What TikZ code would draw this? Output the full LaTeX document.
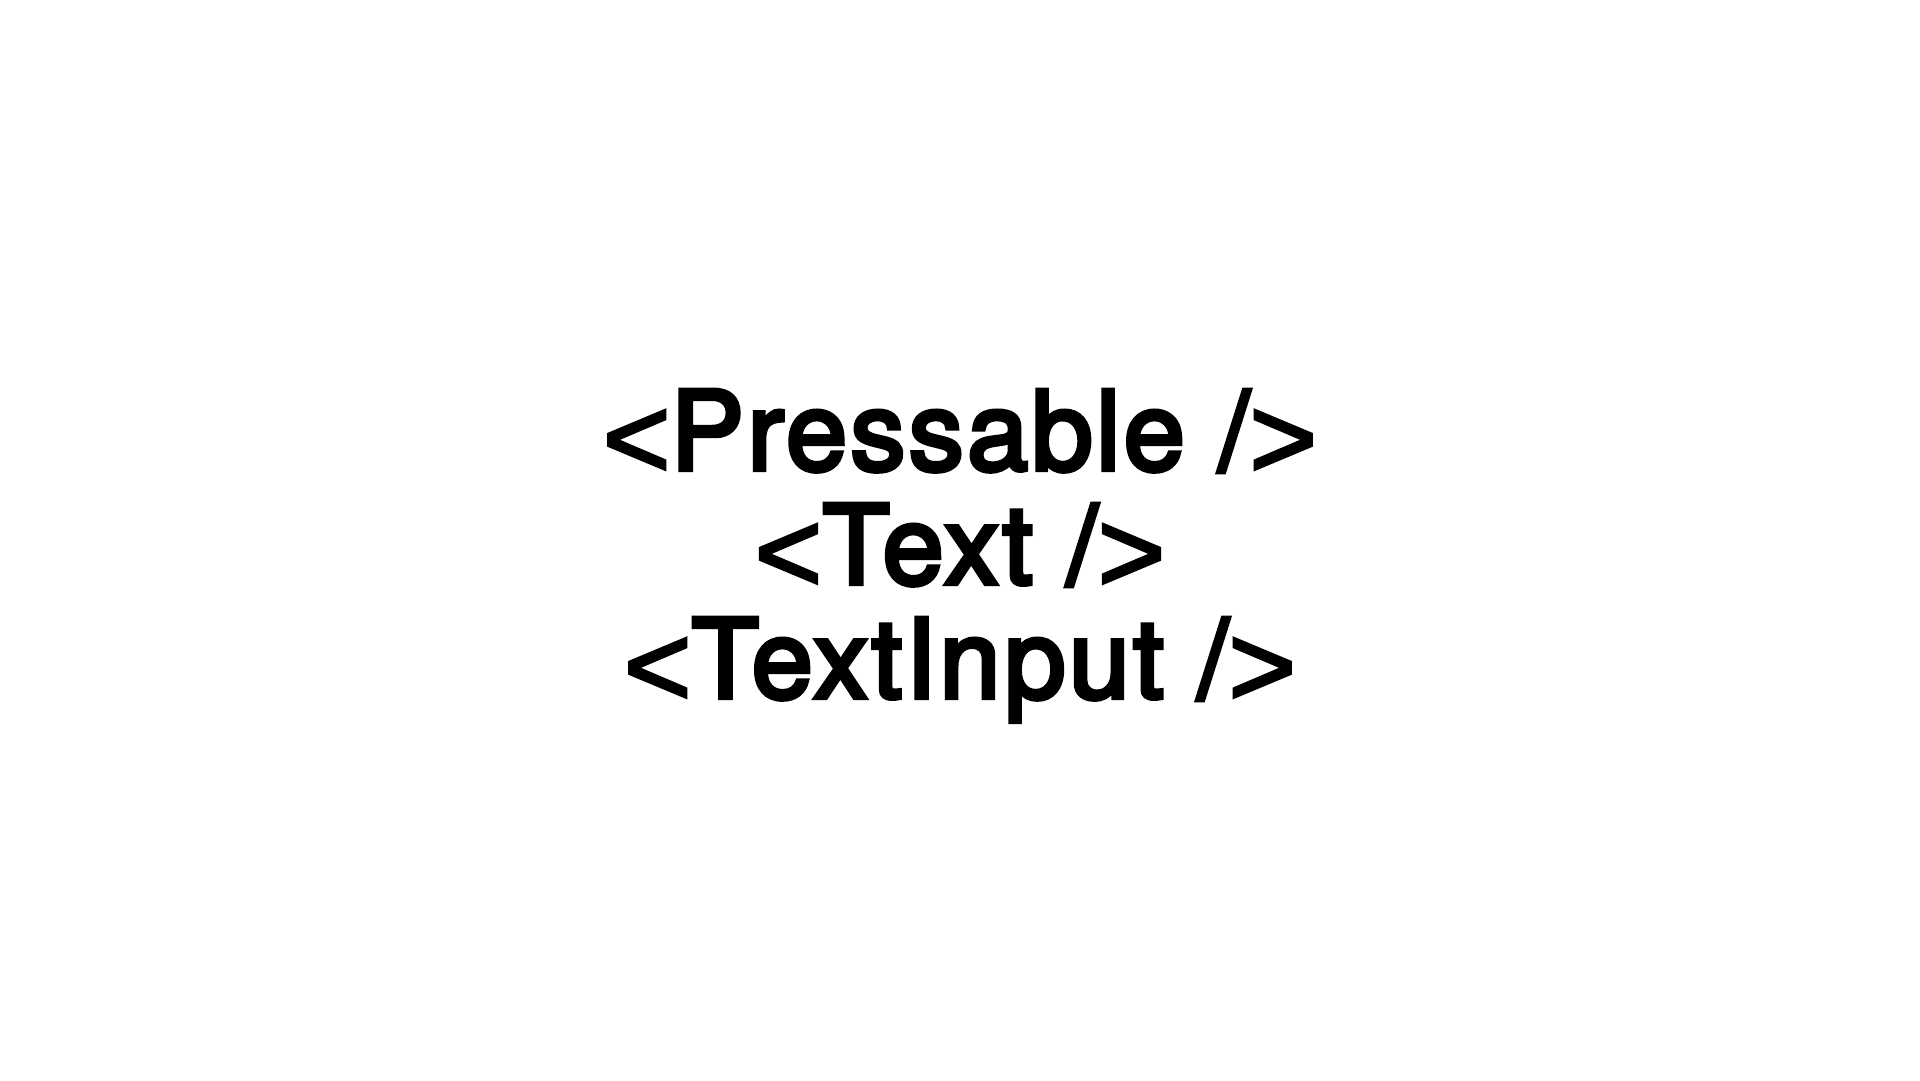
\documentclass[tikz,border=0pt]{standalone}
\usepackage{fontspec}
\setmainfont{TeX Gyre Heros}[FakeBold=4,LetterSpace=3]
\newfontfamily\angfont{Liberation Sans}[FakeBold=2.5]
\newcommand{\lt}{\raisebox{-8pt}{\fontsize{116}{116}\angfont <}}
\newcommand{\gt}{\raisebox{-8pt}{\fontsize{116}{116}\angfont >}}
\begin{document}
\begin{tikzpicture}[x=1pt,y=1pt,
  tag/.style={anchor=base,inner sep=0pt,font=\fontsize{110}{110}\selectfont,text=black}]
\useasboundingbox[fill=white] (0,0) rectangle (1920,1080);
\node[tag] (pressable) at (960,610) {\lt Pressable /\gt};
\node[tag] (text) at (960,496) {\lt Text /\gt};
\node[tag] (textinput) at (960,382) {\lt TextInput /\gt};
\end{tikzpicture}
\end{document}
